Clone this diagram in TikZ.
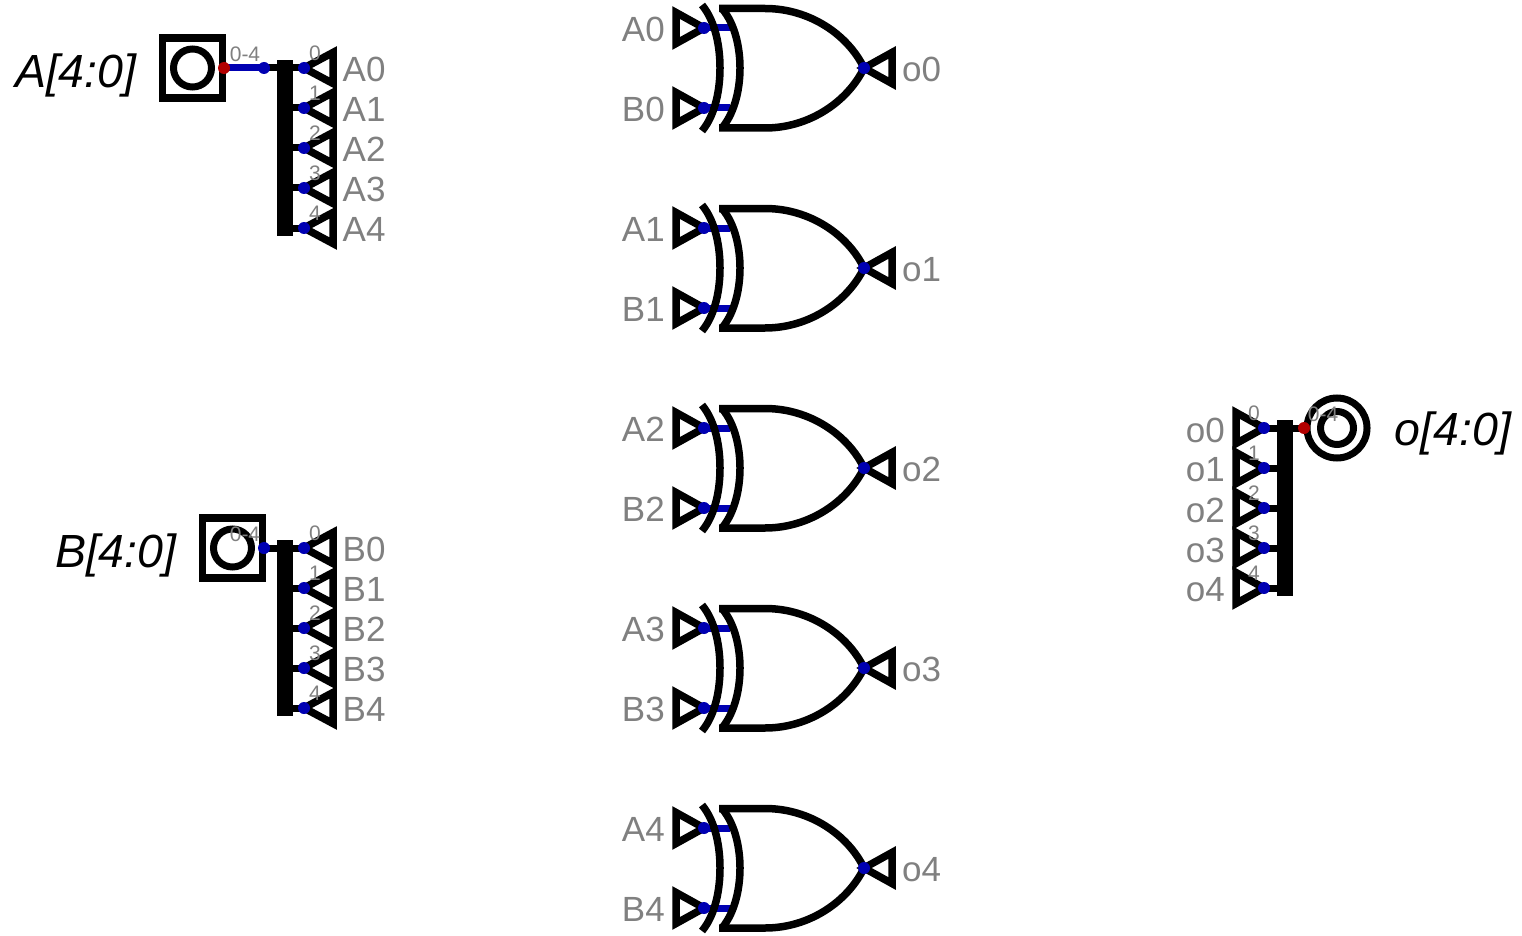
\documentclass[tikz,border=0pt]{standalone}
\usepackage{fontspec}
\setmainfont{Liberation Sans}
\usepackage{tikz}
\usetikzlibrary{positioning}
\definecolor{wireblue}{RGB}{0,0,178}
\definecolor{wirered}{RGB}{178,0,0}
\definecolor{labelgray}{RGB}{128,128,128}
\pgfdeclarelayer{wires}
\pgfdeclarelayer{shapes}
\pgfsetlayers{wires,shapes,main}
\tikzset{
	wire/.style={line width=7pt,black},
	bluewire/.style={line width=7pt,wireblue},
	tunnel/.style={line width=7.5pt,black},
	gateline/.style={line width=7.5pt,black},
	bluedot/.style={circle,fill=wireblue,inner sep=0pt,minimum size=12pt},
	reddot/.style={circle,fill=wirered,inner sep=0pt,minimum size=12pt},
	splitbar/.style={rectangle,fill=black,inner sep=0pt,minimum width=16pt,minimum height=176pt},
	pinbox/.style={rectangle,draw,line width=7.5pt,inner sep=0pt,minimum size=60pt},
	pinring/.style={circle,draw,line width=7pt,inner sep=0pt,minimum size=38pt},
	netlabel/.style={text=labelgray,inner sep=0pt,font=\fontsize{35}{40}\selectfont},
	bitlabel/.style={text=labelgray,inner sep=0pt,font=\fontsize{21}{24}\selectfont},
	pinlabel/.style={inner sep=0pt,font=\fontsize{46.5}{54}\selectfont\itshape},
	pics/xorgate/.style={code={
		\draw[gateline] (719,8.5) -- (765,8.5) .. controls (810,8.5) and (848,35) .. (864,68)
			.. controls (848,101) and (810,128) .. (765,128) -- (719,128);
		\draw[gateline] (722,8.5) .. controls (736,25) and (740,50) .. (740,68) .. controls (740,86) and (736,111) .. (722,128);
		\draw[gateline] (702,5) .. controls (716,22) and (720,48) .. (720,68) .. controls (720,88) and (716,114) .. (702,131);
	}}
}
\begin{document}
\begin{tikzpicture}[x=1pt,y=-1pt]
	\useasboundingbox (0,0) rectangle (1522,936);

	%Input A
	\node[pinbox] (inA) at (192.5,68) {};
	\node[pinring] (ringA) at (inA.center) {};
	\node[reddot] (startA) at (224,68) {};
	\node[bluedot] (midA) at (264,68) {};
	\node[splitbar] (barA) at (285,148) {};
	\node[pinlabel,left=22pt of inA,yshift=-7pt] (nameA) {A[4:0]};
	\begin{pgfonlayer}{wires}
		\draw[bluewire] (startA.center) -- (midA.center);
		\draw[wire] (midA.center) -- (midA.center -| barA.center);
	\end{pgfonlayer}

	%Input B
	\node[pinbox] (inB) at (232.5,548) {};
	\node[pinring] (ringB) at (inB.center) {};
	\node[bluedot] (startB) at (264,548) {};
	\node[splitbar] (barB) at (285,628) {};
	\node[pinlabel,left=22pt of inB,yshift=-7pt] (nameB) {B[4:0]};
	\begin{pgfonlayer}{wires}
		\draw[wire] (startB.center) -- (startB.center -| barB.center);
	\end{pgfonlayer}

	%Splitter ends of A and B
	\foreach \name/\ytop in {A/68,B/548} {
		\foreach \i in {0,...,4} {
			\pgfmathtruncatemacro{\ypos}{\ytop+40*\i}
			\node[bluedot] (tun\name\i) at (304,\ypos) {};
			\node[netlabel,anchor=west] (lab\name\i) at (342.5,\ypos+1.5) {\name\i};
			\node[bitlabel] (bit\name\i) at (315,\ypos-15) {\i};
			\begin{pgfonlayer}{shapes}
				\draw[tunnel] (tun\name\i.center) -- ++(29,-15.5) -- ++(0,31) -- cycle;
			\end{pgfonlayer}
			\begin{pgfonlayer}{wires}
				\draw[wire] (tun\name\i.center) -- (tun\name\i.center -| bar\name.center);
			\end{pgfonlayer}
		}
	}
	\node[bitlabel] (widthA) at (245,54) {0-4};
	\node[bitlabel] (widthB) at (245,534) {0-4};

	%Gates
	\foreach \i in {0,...,4} {
		\pgfmathtruncatemacro{\yoff}{200*\i}
		\node[bluedot] (gateA\i) at (704,\yoff+28) {};
		\node[bluedot] (gateB\i) at (704,\yoff+108) {};
		\node[bluedot] (gateO\i) at (864,\yoff+68) {};
		\node[netlabel,anchor=east] (labGA\i) at (665,\yoff+29.5) {A\i};
		\node[netlabel,anchor=east] (labGB\i) at (665,\yoff+109.5) {B\i};
		\node[netlabel,anchor=west] (labGO\i) at (902,\yoff+69.5) {o\i};
		\coordinate (stubA\i) at (730,\yoff+28);
		\coordinate (stubB\i) at (730,\yoff+108);
		\begin{pgfonlayer}{shapes}
			\pic at (0,\yoff) {xorgate};
			\draw[tunnel] (gateA\i.center) -- ++(-28,-15.5) -- ++(0,31) -- cycle;
			\draw[tunnel] (gateB\i.center) -- ++(-28,-15.5) -- ++(0,31) -- cycle;
			\draw[tunnel] (gateO\i.center) -- ++(28,-15.5) -- ++(0,31) -- cycle;
		\end{pgfonlayer}
		\begin{pgfonlayer}{wires}
			\draw[bluewire] (gateA\i.center) -- (stubA\i);
			\draw[bluewire] (gateB\i.center) -- (stubB\i);
		\end{pgfonlayer}
	}

	%Output
	\node[circle,draw,line width=7pt,inner sep=0pt,minimum size=60pt] (outer) at (1337,428) {};
	\node[pinring,minimum size=33pt] (inner) at (outer.center) {};
	\node[reddot] (stopO) at (1304,428) {};
	\node[splitbar] (barO) at (1285,508) {};
	\node[pinlabel,right=24pt of outer,yshift=-5pt] (nameO) {o[4:0]};
	\foreach \i in {0,...,4} {
		\pgfmathtruncatemacro{\ypos}{428+40*\i}
		\node[bluedot] (tunO\i) at (1264,\ypos) {};
		\node[netlabel,anchor=east] (labO\i) at (1225,\ypos+2) {o\i};
		\node[bitlabel] (bitO\i) at (1254,\ypos-15) {\i};
		\begin{pgfonlayer}{shapes}
			\draw[tunnel] (tunO\i.center) -- ++(-28,-15.5) -- ++(0,31) -- cycle;
		\end{pgfonlayer}
		\begin{pgfonlayer}{wires}
			\draw[wire] (tunO\i.center) -- (tunO\i.center -| barO.center);
		\end{pgfonlayer}
	}
	\begin{pgfonlayer}{wires}
		\draw[wire] (barO.center |- stopO.center) -- (stopO.center);
	\end{pgfonlayer}
	\node[bitlabel] (widthO) at (1323,414) {0-4};
\end{tikzpicture}
\end{document}
